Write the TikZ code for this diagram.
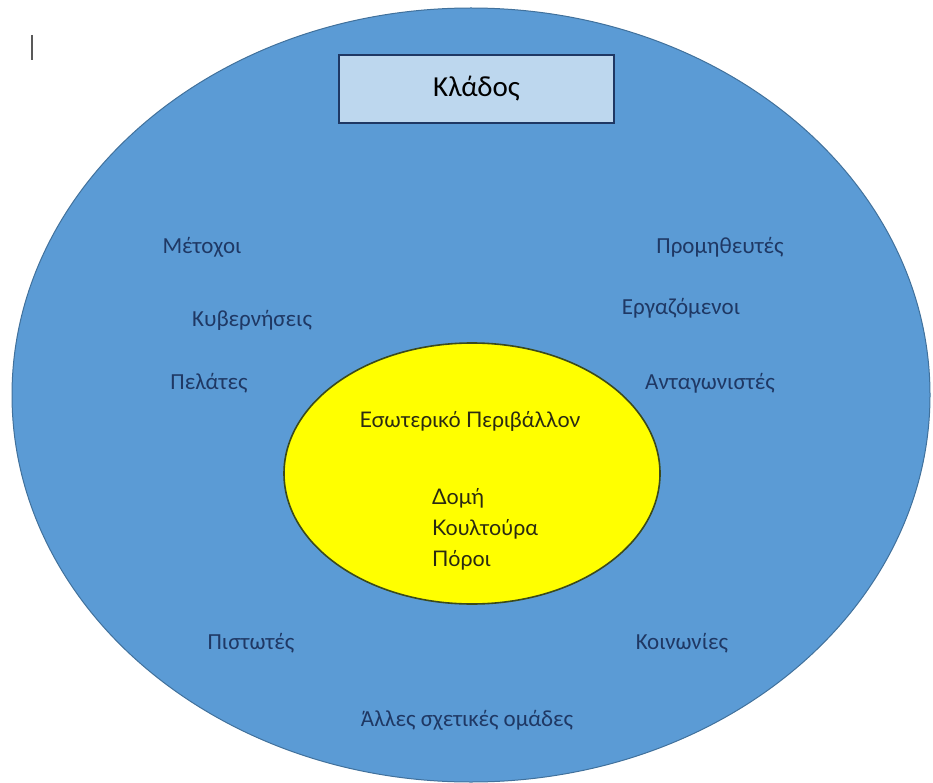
\documentclass[tikz,border=0pt]{standalone}
\usepackage{fontspec}
\setmainfont{Carlito}
\newfontfamily\innerfont{Lato}
\usepackage{tikz}
\usetikzlibrary{shapes.geometric, positioning}
\definecolor{cOUTER}{HTML}{5B9BD5}
\definecolor{cOUTERLINE}{HTML}{41719C}
\definecolor{cBOX}{HTML}{BDD7EE}
\definecolor{cNAVY}{HTML}{1F3864}
\definecolor{cINNER}{HTML}{FFFF00}
\definecolor{cINNERLINE}{HTML}{3B4A1C}
\definecolor{cINNERTEXT}{HTML}{2A2A12}

\begin{document}
\begin{tikzpicture}[
  x=1pt, y=-1pt,
  env/.style={draw=cOUTERLINE, fill=cOUTER, ellipse, inner sep=0pt, line width=1pt},
  core/.style={draw=cINNERLINE, fill=cINNER, ellipse, inner sep=0pt, line width=1.6pt},
  titlebox/.style={draw=cNAVY, fill=cBOX, line width=1.6pt, inner sep=0pt,
    minimum width=275pt, minimum height=68pt, font=\fontsize{29}{31}\selectfont},
  actor/.style={text=cNAVY, inner sep=0pt, font=\fontsize{23}{25}\selectfont},
  inner/.style={text=cINNERTEXT, inner sep=0pt, font=\innerfont\fontsize{21.5}{23}\selectfont}
]
\useasboundingbox (0,0) rectangle (933,783);

\draw[gray!70!black, line width=1.5pt] (32,35) -- (32,60);

\node[env, minimum width=918pt, minimum height=774pt] (sector) at (471,395) {};
\node[titlebox] (klados) at (476.5,89) {Κλάδος};

\node[core, minimum width=376pt, minimum height=261pt] (internal) at (472,473.5) {};
\node[inner] (esoteriko) at (470,421) {Εσωτερικό Περιβάλλον};
\node[inner, anchor=west] (domi) at (432,498) {Δομή};
\node[inner, anchor=west] (koultoura) at (432,529) {Κουλτούρα};
\node[inner, anchor=west] (poroi) at (432,560) {Πόροι};

% stakeholders around the core
\node[actor] (metoxoi) at (202,247) {Μέτοχοι};
\node[actor] (kyvern)  at (252,320) {Κυβερνήσεις};
\node[actor] (pelates) at (209,383) {Πελάτες};
\node[actor] (prom)    at (720,247) {Προμηθευτές};
\node[actor] (ergaz)   at (681,308) {Εργαζόμενοι};
\node[actor] (antag)   at (710,383) {Ανταγωνιστές};
\node[actor] (pistotes) at (251,643) {Πιστωτές};
\node[actor] (koinon)  at (682,643) {Κοινωνίες};
\node[actor] (alles)   at (467,720) {Άλλες σχετικές ομάδες};
\end{tikzpicture}
\end{document}
